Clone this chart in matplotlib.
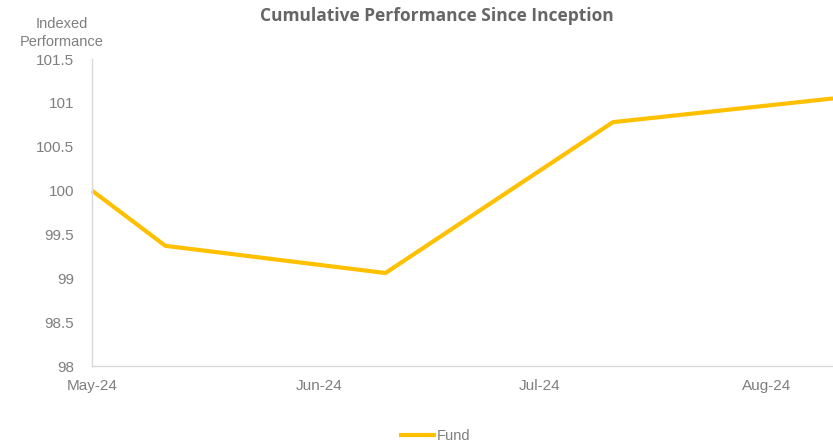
import numpy as np
import matplotlib.pyplot as plt
import matplotlib.dates as mdates

dates = np.array(['2024-05-01', '2024-05-11', '2024-06-10', '2024-07-11', '2024-08-10'], dtype='datetime64[D]')
fund = [100.0, 99.37, 99.06, 100.78, 101.05]

ticks = np.array(['2024-05-01', '2024-06-01', '2024-07-01', '2024-08-01'], dtype='datetime64[D]')
tick_labels = ['May-24', 'Jun-24', 'Jul-24', 'Aug-24']
yticks = [98, 98.5, 99, 99.5, 100, 100.5, 101, 101.5]
ytick_labels = ['98', '98.5', '99', '99.5', '100', '100.5', '101', '101.5']

plt.rcParams['font.family'] = ['Liberation Sans', 'DejaVu Sans']
grey = '#7f7f7f'

fig = plt.figure(figsize=[8.33, 4.44], dpi=100)
ax = fig.add_axes([92/833, 78/444, 741/833, 307/444])

ax.plot(dates, fund, '-', color='#FFC000', lw=3, label='Fund', clip_on=False, solid_capstyle='butt')

ax.set_xlim(dates[0], dates[-1])
ax.set_ylim(98, 101.5)
ax.set_xticks(ticks)
ax.set_xticklabels(tick_labels)
ax.set_yticks(yticks)
ax.set_yticklabels(ytick_labels)
ax.tick_params(axis='both', length=0, colors=grey, labelsize=11)
ax.tick_params(axis='x', pad=9)
ax.tick_params(axis='y', pad=13)

for s in ['top', 'right']:
    ax.spines[s].set_visible(False)
for s in ['left', 'bottom']:
    ax.spines[s].set_color('#d9d9d9')
    ax.spines[s].set_linewidth(1)

fig.text(437/833, 1 - 16/444, 'Cumulative Performance Since Inception', ha='center', va='center',
         fontsize=12.5, fontweight='bold', color='#666666', family=['Open Sans', 'DejaVu Sans'])
fig.text(62/833, 1 - 33/444, 'Indexed\nPerformance', ha='center', va='center',
         fontsize=10.5, color=grey, linespacing=1.4)

leg = fig.legend(loc='center', bbox_to_anchor=(435/833, 1 - 436/444), frameon=False,
                 fontsize=10.5, handlelength=2.5, handletextpad=0.1)
for t in leg.get_texts():
    t.set_color(grey)

fig.savefig('out.png', dpi=100)
